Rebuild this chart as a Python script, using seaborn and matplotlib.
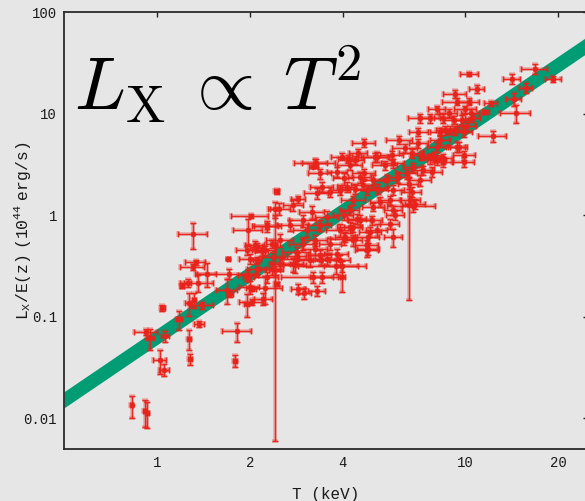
import numpy as np
import pandas as pd
import matplotlib
matplotlib.use("Agg")
import matplotlib.pyplot as plt
import seaborn as sns
from matplotlib.ticker import FixedLocator, NullFormatter, NullLocator

# ---------------- data ----------------
T_keV = [0.828, 0.914, 0.930, 0.921, 0.949, 1.023, 1.056, 1.061, 1.043, 1.181,
         1.27, 1.28, 1.268, 1.372, 1.32, 1.403, 1.208, 1.258, 1.356, 1.306,
         1.335, 1.45, 1.704, 1.71, 1.684, 1.726, 1.823, 1.795, 1.955, 2.03,
         2.04, 1.955, 2.24, 2.425, 2.447, 1.312, 2.02, 1.98, 2.28, 2.447,
         2.415, 2.107, 2.188, 2.117, 1.98, 2.27, 2.415, 2.357, 4.70, 4.50,
         3.98, 4.18, 4.39, 3.28, 3.22, 3.38, 3.85, 4.23, 4.70, 2.876,
         2.495, 2.77, 3.30, 3.43, 3.65, 3.93, 4.39, 4.80, 3.18, 3.556,
         2.985, 2.70, 2.27, 2.51, 3.06, 3.38, 3.93, 4.23, 4.56, 4.85,
         4.03, 3.65, 3.26, 2.985, 2.08, 2.24, 2.842, 3.26, 3.38, 3.83,
         4.80, 2.386, 2.842, 3.14, 3.556, 3.93, 2.806, 2.51, 3.81, 2.107,
         2.357, 2.77, 3.22, 3.43, 2.876, 3.01, 3.30, 2.0, 3.98, 2.85,
         3.41, 3.98, 8.09, 7.14, 7.70, 8.83, 9.40, 7.05, 8.29, 8.94,
         9.75, 10.1, 6.12, 7.05, 9.40, 9.93, 9.88, 5.10, 5.78, 6.38,
         6.71, 7.23, 7.70, 8.09, 8.50, 5.50, 5.85, 6.79, 7.32, 4.03,
         4.56, 5.04, 5.57, 6.07, 6.47, 6.55, 7.14, 4.13, 4.67, 5.23,
         5.85, 6.71, 4.34, 5.30, 5.71, 6.63, 6.88, 6.79, 4.23, 5.04,
         5.85, 5.93, 4.03, 4.45, 4.98, 5.17, 5.71, 5.85, 4.92, 4.34,
         4.08, 4.34, 4.80, 4.85, 6.55, 10.3, 10.9, 9.28, 16.8, 14.2,
         19.3, 15.7, 14.35, 14.6, 12.3, 12.1, 11.6, 10.25, 10.0, 10.4,
         8.5, 9.16, 10.6, 8.61, 9.28, 9.88, 8.29, 9.51, 7.89, 8.5,
         8.09, 7.80, 5.16, 3.26, 1.955, 2.0, 2.21]

L_x = [0.0134, 0.0117, 0.0113, 0.0707, 0.0616, 0.0372, 0.0301, 0.0651, 0.123, 0.0942,
       0.0608, 0.0383, 0.136, 0.0855, 0.147, 0.13, 0.2, 0.217, 0.217, 0.312,
       0.346, 0.266, 0.371, 0.266, 0.185, 0.166, 0.0718, 0.0369, 0.1346, 0.14,
       0.189, 0.246, 0.194, 0.506, 0.212, 0.65, 0.984, 0.711, 0.784, 1.72,
       1.146, 0.487, 0.441, 0.36, 0.256, 0.246, 0.287, 0.526, 5.16, 4.11,
       3.76, 3.57, 3.49, 3.28, 2.99, 2.58, 2.67, 3.11, 2.58, 1.43,
       1.164, 1.255, 1.637, 1.90, 1.70, 1.764, 1.83, 1.764, 1.078, 0.962,
       0.893, 0.797, 0.779, 0.567, 0.711, 0.797, 0.711, 0.767, 0.893, 0.611,
       0.589, 0.526, 0.567, 0.526, 0.506, 0.452, 0.435, 0.469, 0.403, 0.419,
       0.452, 0.388, 0.374, 0.36, 0.374, 0.36, 0.321, 0.334, 0.314, 0.298,
       0.298, 0.329, 0.246, 0.246, 0.189, 0.171, 0.179, 0.196, 0.246, 0.394,
       0.366, 0.316, 11.0, 9.0, 9.0, 10.2, 13.1, 6.63, 6.63, 6.89,
       8.65, 7.55, 5.49, 5.1, 4.72, 3.91, 3.35, 3.71, 3.91, 4.55,
       4.06, 3.91, 3.62, 3.49, 3.35, 3.11, 3.24, 2.99, 2.78, 2.30,
       2.39, 2.21, 2.21, 2.39, 2.58, 2.05, 2.21, 1.90, 1.98, 1.83,
       1.764, 1.70, 1.406, 1.35, 1.406, 1.406, 1.30, 1.23, 1.12, 1.21,
       1.12, 1.0, 1.0, 0.928, 0.893, 0.711, 0.828, 0.611, 0.684, 0.767,
       0.611, 0.567, 0.506, 0.469, 1.255, 24.6, 17.5, 15.6, 27.5, 22.1,
       22.1, 17.8, 13.9, 10.1, 6.01, 12.6, 10.4, 13.1, 11.0, 10.1,
       9.0, 8.65, 9.0, 6.89, 6.89, 6.63, 5.49, 4.72, 3.76, 3.62,
       4.72, 2.67, 3.76, 3.24, 0.452, 0.374, 0.151]

T_err = [0.01, 0.01, 0.01, 0.08, 0.03, 0.05, 0.04, 0.03, 0.02, 0.03,
         0.02, 0.02, 0.03, 0.05, 0.02, 0.12, 0.02, 0.03, 0.17, 0.12,
         0.10, 0.10, 0.02, 0.38, 0.13, 0.04, 0.20, 0.03, 0.04, 0.18,
         0.05, 0.05, 0.30, 0.03, 0.05, 0.14, 0.28, 0.22, 0.25, 0.05,
         0.08, 0.10, 0.10, 0.06, 0.15, 0.20, 0.10, 0.10, 0.4, 0.3,
         0.3, 0.3, 0.3, 0.5, 0.1, 0.3, 0.3, 0.4, 0.4, 0.15,
         0.20, 0.20, 0.3, 0.3, 0.3, 0.3, 0.4, 0.4, 0.3, 0.3,
         0.3, 0.25, 0.20, 0.25, 0.3, 0.3, 0.4, 0.4, 0.4, 0.4,
         0.4, 0.3, 0.3, 0.3, 0.15, 0.2, 0.3, 0.3, 0.3, 0.35,
         0.4, 0.2, 0.3, 0.3, 0.3, 0.3, 0.25, 0.2, 0.95, 0.15,
         0.2, 0.2, 0.7, 0.3, 0.15, 0.15, 0.2, 0.15, 0.1, 0.2,
         0.2, 0.5, 0.5, 0.6, 0.6, 0.6, 1.0, 0.5, 0.6, 0.6,
         0.6, 0.7, 0.6, 0.5, 0.6, 0.8, 0.8, 0.5, 0.5, 0.6,
         0.6, 0.6, 0.6, 0.6, 0.6, 0.5, 0.5, 0.5, 0.6, 0.3,
         0.4, 0.4, 0.5, 0.5, 0.5, 0.5, 0.6, 0.3, 0.4, 0.4,
         0.5, 0.5, 0.4, 0.4, 0.5, 0.5, 0.5, 1.2, 0.3, 0.4,
         0.4, 0.4, 0.3, 0.3, 0.4, 0.4, 0.4, 0.4, 0.4, 0.3,
         0.3, 0.3, 0.4, 0.4, 0.3, 0.7, 0.6, 0.8, 1.6, 0.9,
         1.2, 0.8, 0.8, 1.6, 1.3, 0.6, 0.3, 0.8, 0.8, 0.7,
         0.6, 0.6, 0.6, 0.6, 0.6, 0.6, 0.6, 0.6, 0.6, 0.6,
         0.6, 0.6, 0.5, 0.3, 0.15, 0.15, 0.15]

L_err = [0.0033, 0.0035, 0.0033, 0.005, 0.014, 0.010, 0.004, 0.008, 0.008, 0.020,
         0.014, 0.005, 0.035, 0.006, 0.025, 0.01, 0.01, 0.02, 0.04, 0.02,
         0.02, 0.07, 0.01, 0.03, 0.05, 0.01, 0.015, 0.005, 0.035, 0.01,
         0.01, 0.02, 0.06, 0.50, 0.01, 0.18, 0.04, 0.20, 0.05, 0.10,
         0.20, 0.05, 0.04, 0.03, 0.03, 0.03, 0.03, 0.05, 0.5, 0.4,
         0.3, 0.3, 0.3, 0.3, 0.1, 0.3, 0.3, 0.3, 0.3, 0.10,
         0.15, 0.15, 0.2, 0.2, 0.2, 0.2, 0.2, 0.2, 0.15, 0.15,
         0.12, 0.10, 0.10, 0.08, 0.1, 0.1, 0.1, 0.1, 0.12, 0.08,
         0.08, 0.07, 0.07, 0.07, 0.05, 0.05, 0.05, 0.06, 0.05, 0.05,
         0.06, 0.05, 0.05, 0.05, 0.05, 0.05, 0.05, 0.05, 0.05, 0.04,
         0.04, 0.05, 0.03, 0.03, 0.02, 0.02, 0.02, 0.03, 0.07, 0.04,
         0.04, 0.04, 1.0, 1.0, 1.0, 1.0, 1.0, 0.6, 0.6, 0.6,
         1.0, 0.8, 0.5, 0.5, 0.5, 0.4, 0.4, 0.4, 0.4, 0.5,
         0.4, 0.4, 0.4, 0.4, 0.4, 0.3, 0.3, 0.3, 0.3, 0.3,
         0.3, 0.3, 0.3, 0.3, 0.3, 0.25, 0.25, 0.2, 0.2, 0.2,
         0.2, 0.2, 0.15, 0.15, 0.15, 0.15, 0.15, 0.15, 0.12, 0.12,
         0.12, 0.1, 0.1, 0.1, 0.1, 0.1, 0.1, 0.12, 0.08, 0.08,
         0.07, 0.07, 0.06, 0.06, 1.11, 1.2, 1.5, 1.5, 3.0, 2.5,
         1.5, 2.0, 2.0, 2.0, 0.8, 0.8, 0.5, 1.0, 1.0, 1.0,
         1.0, 0.8, 0.8, 0.7, 0.7, 0.7, 0.6, 0.5, 0.4, 0.4,
         0.5, 0.3, 0.4, 0.3, 0.05, 0.04, 0.02]

# model band (L_X proportional to T^2), edges at the two ends of the T range
band_T = [0.5, 25.0]
band_low = [0.0127, 40.0]
band_high = [0.0183, 58.0]

x_ticks = [1, 2, 4, 10, 20]
x_tick_labels = ["1", "2", "4", "10", "20"]
y_ticks = [0.01, 0.1, 1, 10, 100]
y_tick_labels = ["0.01", "0.1", "1", "10", "100"]
y_minor_mantissas = [2, 5, 8]

RED = "#e8231b"
GREEN = "#009c74"
BG = "#e6e6e6"

df = pd.DataFrame({"T": T_keV, "L": L_x, "dT": T_err, "dL": L_err})

# ---------------- figure ----------------
sns.set_theme(style="white")
plt.rcParams["font.family"] = ["Liberation Mono", "DejaVu Sans"]
plt.rcParams["mathtext.fontset"] = "cm"

fig = plt.figure(figsize=(5.85, 5.01), dpi=100, facecolor=BG)
ax = fig.add_axes([64 / 585, 1 - 449 / 501, (588 - 64) / 585, (449 - 12) / 501])
ax.set_facecolor(BG)
ax.set_xscale("log")
ax.set_yscale("log")
ax.set_xlim(0.5, 25)
ax.set_ylim(0.005, 100)

ax.fill_between(band_T, band_low, band_high, color=GREEN, lw=0, zorder=1)

# error bars: soft halo + crisp core
ax.errorbar(df["T"], df["L"], xerr=df["dT"], yerr=df["dL"], fmt="none",
            ecolor=RED, elinewidth=2.6, capsize=2.2, capthick=2.6,
            alpha=0.3, zorder=2)
ax.errorbar(df["T"], df["L"], xerr=df["dT"], yerr=df["dL"], fmt="none",
            ecolor=RED, elinewidth=1.0, capsize=2.2, capthick=1.0,
            alpha=0.95, zorder=3)
sns.scatterplot(data=df, x="T", y="L", ax=ax, color=RED, s=14,
                edgecolor=RED, linewidth=0.3, zorder=4, legend=False)

# ticks
ax.xaxis.set_major_locator(FixedLocator(x_ticks))
ax.set_xticklabels(x_tick_labels)
ax.xaxis.set_minor_locator(NullLocator())
ax.yaxis.set_major_locator(FixedLocator(y_ticks))
ax.set_yticklabels(y_tick_labels)
y_minor = [m * 10.0 ** k for k in range(-3, 2) for m in y_minor_mantissas]
ax.yaxis.set_minor_locator(FixedLocator(y_minor))
ax.yaxis.set_minor_formatter(NullFormatter())

ax.tick_params(which="both", direction="in", top=True, right=True,
               labeltop=False, labelright=False, color="#222222",
               labelcolor="#1a1a1a", labelsize=10)
ax.tick_params(which="major", length=3.8, width=1.0, pad=5)
ax.tick_params(which="minor", length=2.2, width=0.9)

for s in ax.spines.values():
    s.set_color("#2a2a2a")
    s.set_linewidth(1.3)

ax.set_xlabel("T (keV)", fontsize=11.5, color="#1a1a1a")
ax.set_ylabel(r"$\mathregular{L_X/E(z)\ (10^{44}\ erg/s)}$", fontsize=11.8,
              color="#1a1a1a")
ax.xaxis.set_label_coords(0.5, -0.088)
ax.yaxis.set_label_coords(-0.060, 0.5)

fig.text(74 / 585, 1 - 110 / 501, r"$L_{\mathrm{X}}\:\propto\:T^{2}$",
         fontsize=54, color="black", va="baseline", ha="left")

fig.savefig("out.png", dpi=100, facecolor=BG)
